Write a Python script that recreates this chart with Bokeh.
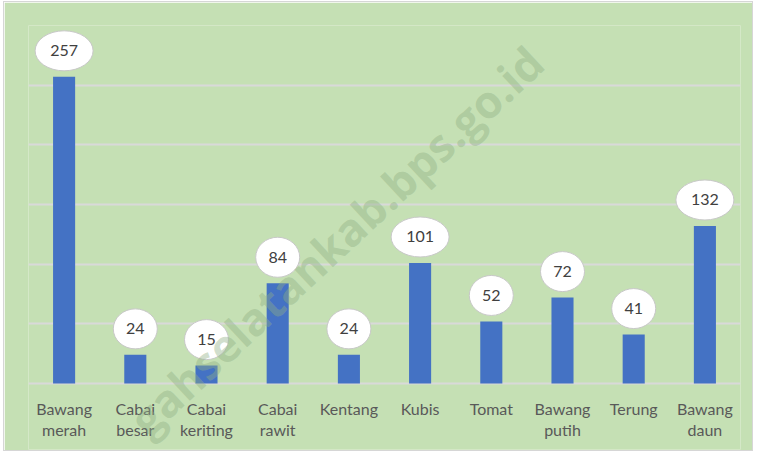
from bokeh.plotting import figure
from bokeh.models import ColumnDataSource, FixedTicker, Range1d, Label
from bokeh.embed import file_html
from bokeh.resources import INLINE
from bokeh.core.properties import value

categories = ["Bawang merah", "Cabai besar", "Cabai keriting", "Cabai rawit", "Kentang",
              "Kubis", "Tomat", "Bawang putih", "Terung", "Bawang daun"]
tick_labels = ["Bawang\nmerah", "Cabai\nbesar", "Cabai\nkeriting", "Cabai\nrawit", "Kentang",
               "Kubis", "Tomat", "Bawang\nputih", "Terung", "Bawang\ndaun"]
values = [257, 24, 15, 84, 24, 101, 52, 72, 41, 132]
y_ticks = [0, 50, 100, 150, 200, 250, 300]

BG = "#C5E0B4"
GRID = "#D9D9D9"
y_max = 300
plot_px = 358                     # pixels from 0 to 300
px_per_unit = plot_px / y_max
below_px = 66                     # room under the baseline for the category labels
label_offset = 26 / px_per_unit   # value label centre 26px above the bar top

src = ColumnDataSource(dict(
    x=categories,
    top=values,
    ly=[v + label_offset for v in values],
    txt=[str(v) for v in values],
    ew=[58 if v >= 100 else 44 for v in values],
    cat_label=tick_labels,
    zero=[0] * len(categories),
))

p = figure(x_range=categories, y_range=Range1d(-below_px / px_per_unit, y_max),
           frame_width=712, frame_height=plot_px + below_px,
           min_border_left=24, min_border_right=12, min_border_top=23, min_border_bottom=1,
           output_backend="svg", toolbar_location=None)

p.background_fill_color = BG
p.border_fill_color = BG
p.outline_line_color = None
p.styles = {"border": "1px solid #D6D6D6", "margin-left": "3px", "margin-top": "1px"}

p.yaxis.visible = False
p.xaxis.visible = False
p.ygrid.ticker = FixedTicker(ticks=y_ticks)
p.ygrid.grid_line_color = GRID
p.ygrid.grid_line_width = 2
p.xgrid.grid_line_color = None

# watermark
wm = Label(x=507, y=395, x_units="screen", y_units="screen",
           text="gahselatankab.bps.go.id", angle=43, angle_units="deg",
           text_align="right", text_baseline="middle",
           text_font="Open Sans", text_font_size="45px", text_font_style="bold",
           text_color="#8FAF85", text_alpha=0.42)
p.add_layout(wm)

p.vbar(x="x", top="top", width=0.31, source=src, fill_color="#4472C4", line_color=None)

p.ellipse(x="x", y="ly", width="ew", height=40, width_units="screen", height_units="screen",
          source=src, fill_color="white", line_color="#C8C8C8", line_width=1)
p.text(x="x", y="ly", text="txt", source=src, text_align="center", text_baseline="middle",
       text_font=value("Lato"), text_font_size="16px", text_color="#404040")

# category labels
p.text(x="x", y="zero", text="cat_label", source=src, text_align="center", text_baseline="top",
       y_offset=15, text_font=value("Lato"), text_font_size="16px", text_color="#595959",
       text_line_height=1.15)

open("out.html", "w").write(file_html(p, INLINE))
